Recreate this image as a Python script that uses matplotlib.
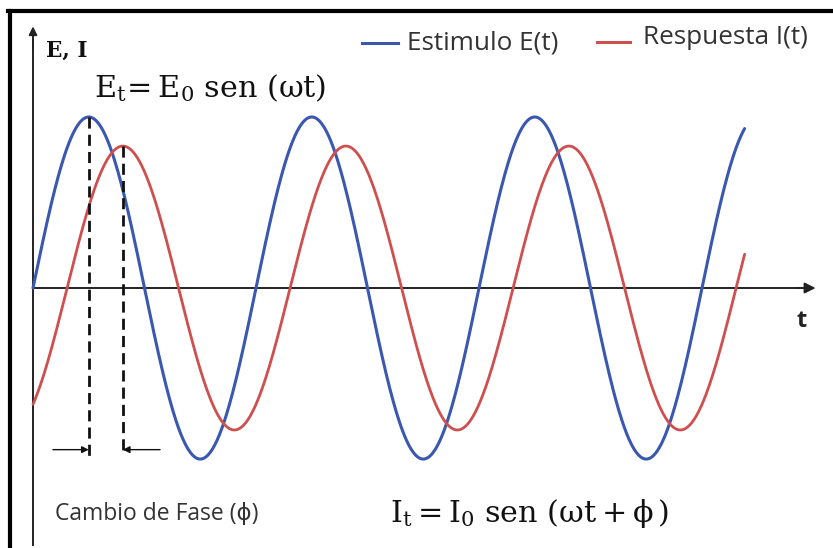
import numpy as np
import matplotlib
matplotlib.use("Agg")
import matplotlib.pyplot as plt
from matplotlib.lines import Line2D

# Signal parameters (ωt in radians)
E0 = 1.0            # stimulus amplitude
I0 = 0.83           # response amplitude
phi = 0.96          # phase shift between stimulus and response (rad)
t_end = 20.05       # last drawn value of ωt
series_labels = ["Estimulo E(t)", "Respuesta I(t)"]
series_colors = ["#3b58b0", "#cf4f4f"]

plt.rcParams["mathtext.fontset"] = "custom"
plt.rcParams["mathtext.rm"] = "DejaVu Serif"
plt.rcParams["mathtext.it"] = "DejaVu Serif"
plt.rcParams["mathtext.bf"] = "DejaVu Serif:bold"

fig = plt.figure(figsize=(8.33, 5.48), dpi=100)
ax = fig.add_axes([0, 0, 1, 1])
ax.set_xlim(-0.93, 22.54)
ax.set_ylim(-1.52, 1.684)
ax.axis("off")

t = np.linspace(0, t_end, 1200)
E = E0 * np.sin(t)
I = I0 * np.sin(t - phi)

ax.plot(t, E, color=series_colors[0], lw=2.2, solid_capstyle="round", zorder=3)
ax.plot(t, I, color=series_colors[1], lw=2.0, solid_capstyle="round", zorder=3)

# Coordinate axes with arrow heads
axis_color = "#222222"
ax.plot([0, 0], [-1.50, 1.45], color=axis_color, lw=1.4, zorder=2)
ax.annotate("", xy=(0, 1.53), xytext=(0, 1.40),
            arrowprops=dict(arrowstyle="-|>", color=axis_color, lw=1.4,
                            mutation_scale=12, shrinkA=0, shrinkB=0))
ax.plot([0, 21.7], [0, 0], color=axis_color, lw=1.4, zorder=2)
ax.annotate("", xy=(22.05, 0), xytext=(21.5, 0),
            arrowprops=dict(arrowstyle="-|>", color=axis_color, lw=1.4,
                            mutation_scale=16, shrinkA=0, shrinkB=0))

# Dashed markers at the two peaks and the phase-shift arrows
t_peak_E = np.pi / 2
t_peak_I = np.pi / 2 + phi
y_low = -0.98
ax.plot([t_peak_E, t_peak_E], [E0, y_low], color="#111111", lw=2.0,
        dashes=(4, 2.2), zorder=4)
ax.plot([t_peak_I, t_peak_I], [I0, y_low], color="#111111", lw=2.0,
        dashes=(4, 2.2), zorder=4)
y_arr = -0.945
ax.annotate("", xy=(t_peak_E, y_arr), xytext=(0.56, y_arr),
            arrowprops=dict(arrowstyle="-|>", color="#111111", lw=1.0,
                            mutation_scale=10, shrinkA=0, shrinkB=0))
ax.annotate("", xy=(t_peak_I, y_arr), xytext=(3.58, y_arr),
            arrowprops=dict(arrowstyle="-|>", color="#111111", lw=1.0,
                            mutation_scale=10, shrinkA=0, shrinkB=0))

# Labels
serif = ["DejaVu Serif"]
sans = ["Open Sans", "DejaVu Sans"]
ax.text(0.38, 1.39, "E, I", family=serif, fontsize=15.5, weight="bold",
        color="#111111", ha="left", va="center")
ax.text(21.66, -0.19, "t", family=sans, fontsize=17, weight="bold",
        color="#222222", ha="center", va="center")
ax.text(1.72, 1.117, r"$\mathrm{E_t\!= E_0\ sen\ (\omega t)}$", fontsize=21.8,
        color="#111111", ha="left", va="baseline")
ax.text(10.05, -1.368, r"$\mathrm{I_t = I_0\ sen\ (\omega t + \phi\,)}$",
        fontsize=21.8, color="#111111", ha="left", va="baseline")
ax.text(0.62, -1.357, "Cambio de Fase (ϕ)", family=sans, fontsize=16.5,
        color="#333333", ha="left", va="baseline")

# Legend entries
ax.plot([9.27, 10.29], [1.433, 1.433], color=series_colors[0], lw=2.2)
ax.text(10.53, 1.43, series_labels[0], family=sans, fontsize=18.8,
        color="#333333", ha="left", va="center")
ax.plot([15.89, 16.82], [1.439, 1.439], color=series_colors[1], lw=2.2)
ax.text(17.18, 1.465, series_labels[1], family=sans, fontsize=18.8,
        color="#333333", ha="left", va="center")

# Frame along the top and left edges
fig.add_artist(Line2D([8 / 833, 1], [1 - 11 / 548, 1 - 11 / 548],
                      transform=fig.transFigure, color="black", lw=3.0))
fig.add_artist(Line2D([10 / 833, 10 / 833], [0, 1 - 11 / 548],
                      transform=fig.transFigure, color="black", lw=3.0))

fig.savefig("out.png", dpi=100, facecolor="white")
